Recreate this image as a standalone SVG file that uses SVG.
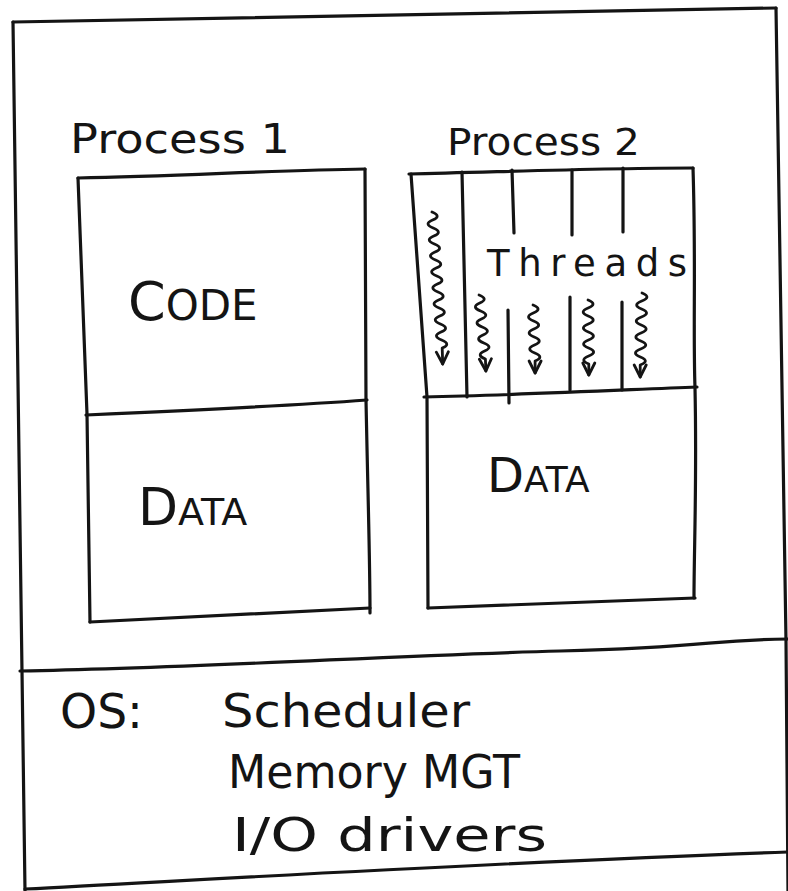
<svg xmlns="http://www.w3.org/2000/svg" width="788" height="891" viewBox="0 0 788 891">
  <style>
    .ink { fill: none; stroke: #141414; stroke-width: 3.2; stroke-linecap: round; stroke-linejoin: round; }
    .wave { fill: none; stroke: #141414; stroke-width: 2.8; stroke-linecap: round; stroke-linejoin: round; }
    .txt { fill: #141414; font-family: "DejaVu Sans", "Liberation Sans", sans-serif; }
  </style>
  <defs>
    <marker id="head" markerUnits="userSpaceOnUse" markerWidth="18" markerHeight="18" refX="14" refY="8" orient="auto">
      <path d="M2,2 L14,8 L2,14" fill="none" stroke="#141414" stroke-width="2.8" stroke-linecap="round" stroke-linejoin="round"/>
    </marker>
  </defs>

  <rect width="788" height="891" fill="#ffffff"/>

  <!-- outer machine frame with the OS strip at the bottom -->
  <g id="frame">
    <path class="ink" d="M13,22 L776,8"/>
    <path class="ink" d="M776,8 Q782,300 786,640 L788,891"/>
    <path class="ink" d="M13,22 Q18,400 22,671 L25,891"/>
    <path class="ink" d="M20,671 C200,668 400,655 560,651 S700,640 788,639"/>
    <path class="ink" d="M25,889 C200,880 500,862 788,852"/>
  </g>

  <!-- Process 1: code + data -->
  <g id="process1">
    <text class="txt" x="70" y="153" font-size="40" textLength="220" lengthAdjust="spacingAndGlyphs">Process 1</text>
    <path class="ink" d="M78,178 C180,176 280,170 365,169"/>
    <path class="ink" d="M78,178 C82,300 86,380 87,414 L90,622"/>
    <path class="ink" d="M365,169 L366,400 C368,500 370,560 370,613"/>
    <path class="ink" d="M86,415 C200,410 300,405 367,400"/>
    <path class="ink" d="M90,622 C200,617 300,612 370,608"/>
    <text class="txt" x="128" y="320"><tspan font-size="54">C</tspan><tspan font-size="42">ODE</tspan></text>
    <text class="txt" x="138" y="525"><tspan font-size="52">D</tspan><tspan font-size="38">ATA</tspan></text>
  </g>

  <!-- Process 2: thread columns over shared data -->
  <g id="process2">
    <text class="txt" x="447" y="155" font-size="38" textLength="193" lengthAdjust="spacingAndGlyphs">Process 2</text>
    <path class="ink" d="M409,174 C500,172 600,168 693,168"/>
    <path class="ink" d="M411,174 L427,397 L428,608"/>
    <path class="ink" d="M693,168 C696,260 693,330 695,388 C697,480 694,550 694,598"/>
    <path class="ink" d="M424,397 C520,395 620,390 697,387"/>
    <path class="ink" d="M428,608 C530,604 620,600 695,598"/>
    <path class="ink" d="M462,172 L467,397"/>
    <path class="ink" d="M512,170 L514,233"/>
    <path class="ink" d="M508,310 L509,403"/>
    <path class="ink" d="M572,170 L572,235"/>
    <path class="ink" d="M570,297 L570,390"/>
    <path class="ink" d="M623,168 L623,232"/>
    <path class="ink" d="M622,302 L622,390"/>
    <text class="txt" x="487" y="276" font-size="37" textLength="200" lengthAdjust="spacing">Threads</text>
    <text class="txt" x="487" y="492"><tspan font-size="48">D</tspan><tspan font-size="36">ATA</tspan></text>
  </g>

  <!-- wavy thread-of-execution arrows -->
  <g id="connectors">
    <path class="wave" marker-end="url(#head)" d="M432,212 q10,4 0.6,8 t0.6,8 t0.6,8 t0.6,8 t0.6,8 t0.6,8 t0.6,8 t0.6,8 t0.6,8 t0.6,8 t0.6,8 t0.6,8 t0.6,8 t0.6,8 t0.6,8 t0.6,8 t0.6,8 l0.5,16"/>
    <path class="wave" marker-end="url(#head)" d="M479,295 q10,4 0.8,8 t0.8,8 t0.8,8 t0.8,8 t0.8,8 t0.8,8 t0.8,8 t0.8,8 l0.5,12"/>
    <path class="wave" marker-end="url(#head)" d="M533,305 q10,4 0.3,8 t0.3,8 t0.3,8 t0.3,8 t0.3,8 t0.3,8 t0.3,8 l0,12"/>
    <path class="wave" marker-end="url(#head)" d="M588,300 q10,4 0.1,8 t0.1,8 t0.1,8 t0.1,8 t0.1,8 t0.1,8 t0.1,8 t0.1,8 l0,11"/>
    <path class="wave" marker-end="url(#head)" d="M642,293 q10,4 -0.2,8 t-0.2,8 t-0.2,8 t-0.2,8 t-0.2,8 t-0.2,8 t-0.2,8 t-0.2,8 t-0.2,8 l0,12"/>
  </g>

  <!-- operating system services -->
  <g id="os">
    <text class="txt" x="60" y="728" font-size="48" textLength="83" lengthAdjust="spacingAndGlyphs">OS:</text>
    <text class="txt" x="222" y="727" font-size="46" textLength="248" lengthAdjust="spacingAndGlyphs">Scheduler</text>
    <text class="txt" x="228" y="788" font-size="46" textLength="292" lengthAdjust="spacingAndGlyphs">Memory MGT</text>
    <text class="txt" x="232" y="851" font-size="46" textLength="315" lengthAdjust="spacingAndGlyphs">I/O drivers</text>
  </g>
</svg>
